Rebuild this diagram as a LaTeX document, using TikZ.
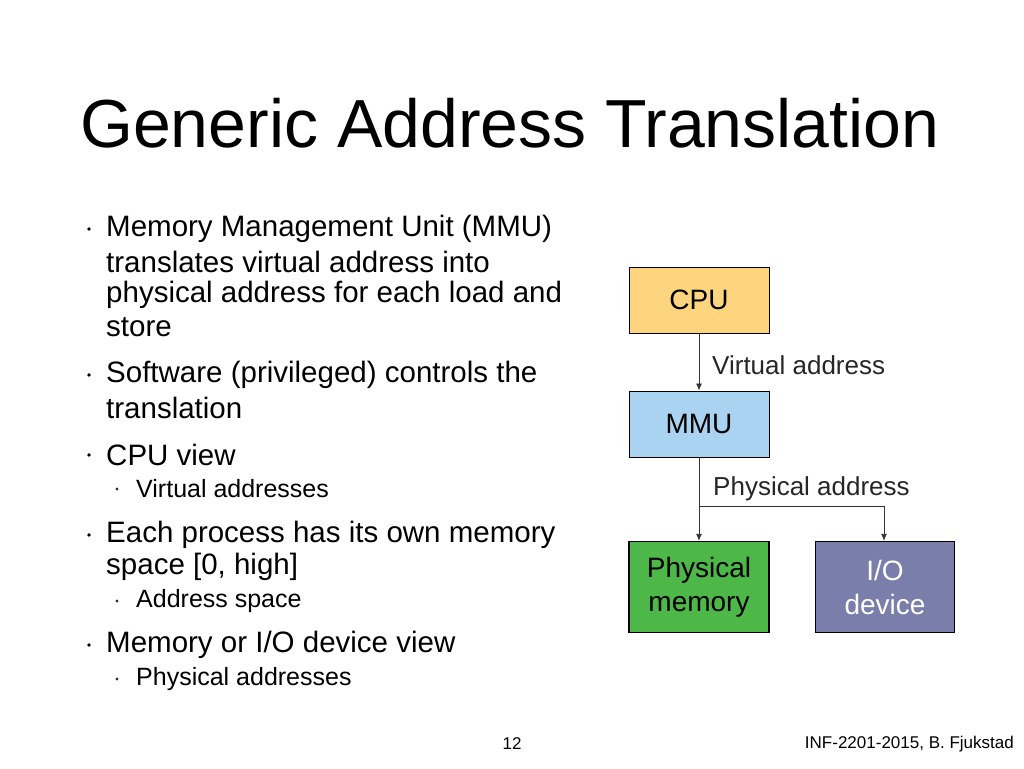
\documentclass[tikz,border=0pt]{standalone}
\usepackage{fontspec}
\usetikzlibrary{arrows.meta}
\setmainfont{Liberation Sans}
\definecolor{cpuc}{HTML}{FCD57E}
\definecolor{mmuc}{HTML}{AAD3F2}
\definecolor{pmc}{HTML}{4DB847}
\definecolor{ioc}{HTML}{7A7EAA}
\begin{document}
\begin{tikzpicture}[x=1pt,y=-1pt,
  box/.style={draw=black,line width=1pt,minimum width=140pt,minimum height=66pt,inner sep=0pt,align=center,font=\fontsize{28}{34}\selectfont},
  l1/.style={anchor=west,inner sep=0pt,font=\fontsize{29.5}{33}\selectfont},
  l2/.style={anchor=west,inner sep=0pt,font=\fontsize{25}{28}\selectfont},
  lab/.style={anchor=west,inner sep=0pt,font=\fontsize{26}{28}\selectfont,text=black!85},
  arr/.style={draw=black!80,line width=0.8pt,-{Latex[length=7pt,width=6pt]}}]
\useasboundingbox (0,0) rectangle (1024,768);
\node[anchor=west,inner sep=0pt,font=\fontsize{68}{70}\selectfont] (title) at (80,123) {Generic Address Translation};
\foreach \y/\t/\n in {229/{Memory Management Unit (MMU)}/a1,262/{translates virtual address into}/a2,295/{physical address for each load and}/a3,327/{store}/a4,375/{Software (privileged) controls the}/b1,408/{translation}/b2,455/{CPU view}/c1,535/{Each process has its own memory}/d1,567/{space [0, high]}/d2,645/{Memory or I/O device view}/e1}
  \node[l1] (\n) at (106,\y) {\t};
\foreach \y/\n in {229/p1,375/p2,455/p3,535/p4,645/p5}
  \node[fill=black,circle,inner sep=1.3pt] (\n) at (89,\y) {};
\foreach \y/\t/\n in {489/{Virtual addresses}/s1,601/{Address space}/s2,679/{Physical addresses}/s3}{
  \node[l2] (\n) at (136,\y) {\t};
  \node[fill=black!80,circle,inner sep=1.1pt] (q\n) at (117,\y) {};}
\node[box,fill=cpuc] (cpu) at (699,300) {CPU};
\node[box,fill=mmuc] (mmu) at (699,424) {MMU};
\node[box,fill=pmc,minimum height=91pt,line width=1.3pt] (pm) at (699,587) {Physical\\memory};
\node[box,fill=ioc,minimum width=139pt,minimum height=91pt,line width=1.3pt,text=white] (io) at (885,587) {I/O\\device};
\draw[arr] (cpu) -- (mmu);
\coordinate (br) at (699,506);
\coordinate (br2) at (884,506);
\draw[arr] (mmu) -- (pm);
\draw[arr] (br) -- (br2) -- (io.north -| br2);
\node[lab] (va) at (712,365) {Virtual address};
\node[lab] (pa) at (713,489) {Physical address};
\node[inner sep=0pt,font=\fontsize{17}{20}\selectfont] (pg) at (512,744) {12};
\node[anchor=east,inner sep=0pt,font=\fontsize{17}{20}\selectfont] (ft) at (1014,744) {INF-2201-2015, B. Fjukstad};
\end{tikzpicture}
\end{document}
